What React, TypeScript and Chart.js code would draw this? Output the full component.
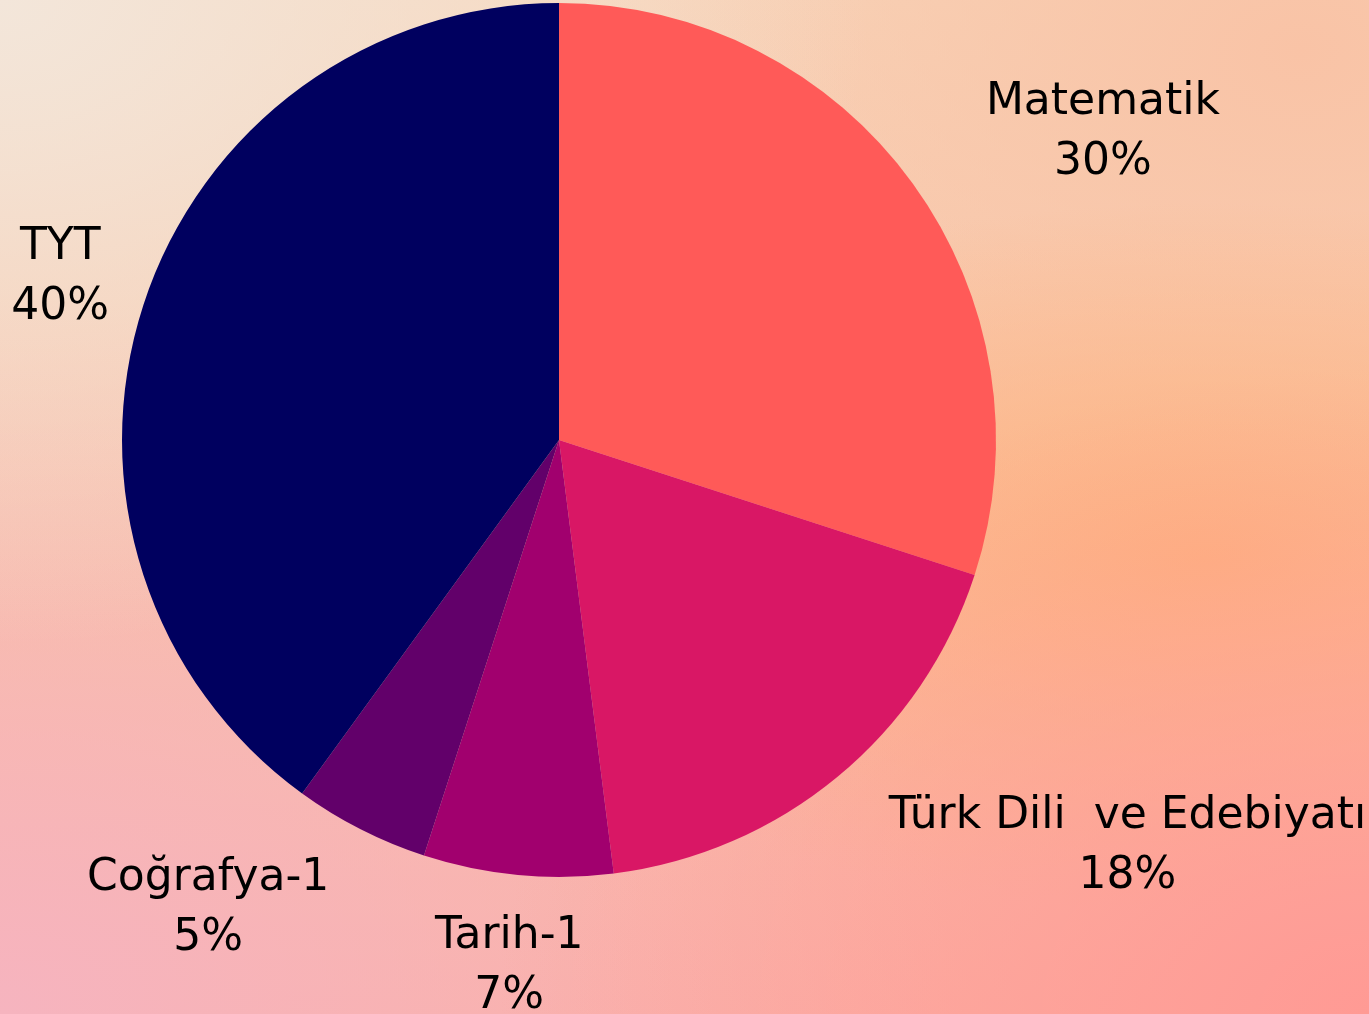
import React, { useEffect, useRef } from "react";
import { Chart, registerables } from "chart.js";

Chart.register(...registerables);

const categories = ["Matematik", "Türk Dili  ve Edebiyatı", "Tarih-1", "Coğrafya-1", "TYT"];
const values = [30, 18, 7, 5, 40];
const sliceColors = ["#FF5A58", "#D91765", "#A1006E", "#62006A", "#00005F"];
// label placement: angle nudge (deg) from slice mid-angle and distance in radius units
const labelAngleNudge = [6.5, -14.8, 0, 9.8, 0];
const labelDistance = [1.43, 1.6, 1.21, 1.34, 1.2];

const FONT = "'DejaVu Sans', sans-serif";

const labelPlugin = {
  id: "outerLabels",
  afterDatasetsDraw(chart: any) {
    const ctx = chart.ctx;
    const meta = chart.getDatasetMeta(0);
    const total = values.reduce((a, b) => a + b, 0);
    ctx.save();
    ctx.fillStyle = "#000000";
    ctx.textAlign = "center";
    ctx.textBaseline = "middle";
    ctx.font = `44px ${FONT}`;
    meta.data.forEach((arc: any, i: number) => {
      const p = arc.getProps(["x", "y", "startAngle", "endAngle", "outerRadius"], true);
      const mid = (p.startAngle + p.endAngle) / 2 + (labelAngleNudge[i] * Math.PI) / 180;
      const d = p.outerRadius * labelDistance[i];
      const cx = p.x + Math.cos(mid) * d;
      const cy = p.y + Math.sin(mid) * d;
      const pct = Math.round((values[i] / total) * 100) + "%";
      ctx.fillText(categories[i], cx, cy - 30);
      ctx.fillText(pct, cx, cy + 30);
    });
    ctx.restore();
  },
};

export default function App() {
  const ref = useRef<HTMLCanvasElement | null>(null);
  useEffect(() => {
    document.body.style.margin = "0";
    const chart = new Chart(ref.current as HTMLCanvasElement, {
      type: "pie",
      data: {
        labels: categories,
        datasets: [
          {
            data: values,
            backgroundColor: sliceColors,
            borderWidth: 0,
          },
        ],
      },
      options: {
        animation: false,
        responsive: false,
        layout: { padding: { left: 122, right: 373, top: 3, bottom: 137 } },
        plugins: {
          legend: { display: false },
          tooltip: { enabled: false },
        },
      },
      plugins: [labelPlugin],
    });
    return () => chart.destroy();
  }, []);

  const bg = [
    "radial-gradient(ellipse at 0% 0%, #F3E6DA 0%, rgba(243,230,218,0) 45%)",
    "radial-gradient(ellipse at 100% 100%, #FF9A94 0%, rgba(255,154,148,0) 45%)",
    "radial-gradient(ellipse at 0% 100%, #F6B4BF 0%, rgba(246,180,191,0) 50%)",
    "radial-gradient(ellipse at 88% 55%, #FEB27E 0%, rgba(254,178,126,0) 45%)",
    "radial-gradient(ellipse at 95% 5%, #F9C3A6 0%, rgba(249,195,166,0) 40%)",
    "linear-gradient(180deg, #F7D5BA 0%, #F9C1A6 60%, #FBB0A4 100%)",
  ].join(", ");

  return (
    <div style={{ width: 1369, height: 1014, background: bg, position: "relative" }}>
      <canvas ref={ref} width={1369} height={1014} style={{ display: "block" }} />
    </div>
  );
}
